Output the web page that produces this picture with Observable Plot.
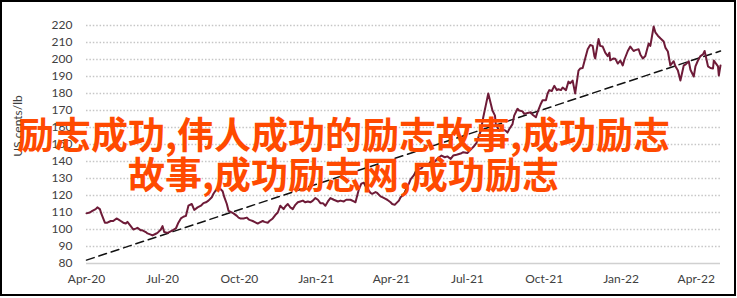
<!DOCTYPE html>
<html>
<head>
<meta charset="utf-8">
<script src="https://cdn.jsdelivr.net/npm/d3@7"></script>
<script src="https://cdn.jsdelivr.net/npm/@observablehq/plot@0.6"></script>
<style>
  body { margin: 0; background: #fff; }
  #chart { position: relative; width: 737px; height: 298px; overflow: hidden; }
  #chart svg { position: absolute; left: 0; top: 0; display: block; }
  #frame { position: absolute; left: 0; top: 0; width: 736px; height: 296px; border: 2px solid #000; box-sizing: border-box; pointer-events: none; }
  #ylabel { position: absolute; left: 17px; top: 126px; transform: translate(-50%, -50%) rotate(-90deg); font: 12px Lato, sans-serif; color: #404040; white-space: nowrap; }
  #banner { position: absolute; left: 0; top: 113px; width: 687px; text-align: center; font: 700 37px/40px "Noto Sans CJK SC", sans-serif; color: #ff4a00; white-space: nowrap; }
</style>
</head>
<body>
<div id="chart">
  <div id="ylabel">US cents/lb</div>
  <div id="banner">励志成功,伟人成功的励志故事,成功励志<br>故事,成功励志网,成功励志</div>
  <div id="frame"></div>
</div>
<script>
// Daily coffee price, US cents/lb
const dates = [
  "2020-04-01","2020-04-05","2020-04-08","2020-04-12","2020-04-14","2020-04-17","2020-04-19","2020-04-23","2020-04-26","2020-04-30",
  "2020-05-03","2020-05-07","2020-05-09","2020-05-12","2020-05-15","2020-05-18","2020-05-20","2020-05-24","2020-05-27","2020-05-30",
  "2020-06-01","2020-06-05","2020-06-07","2020-06-11","2020-06-13","2020-06-17","2020-06-19","2020-06-23","2020-06-25","2020-06-29",
  "2020-07-01","2020-07-03","2020-07-07","2020-07-09","2020-07-13","2020-07-17","2020-07-20","2020-07-23","2020-07-26","2020-07-29",
  "2020-08-01","2020-08-05","2020-08-08","2020-08-12","2020-08-16","2020-08-19","2020-08-22","2020-08-25","2020-08-29","2020-08-31",
  "2020-09-02","2020-09-06","2020-09-08","2020-09-11","2020-09-13","2020-09-16","2020-09-18","2020-09-20","2020-09-24","2020-09-28",
  "2020-09-30","2020-10-02","2020-10-06","2020-10-10","2020-10-12","2020-10-14","2020-10-17","2020-10-19","2020-10-23","2020-10-25",
  "2020-10-29","2020-10-31","2020-11-04","2020-11-06","2020-11-10","2020-11-13","2020-11-16","2020-11-19","2020-11-23","2020-11-25",
  "2020-11-28","2020-12-01","2020-12-04","2020-12-07","2020-12-10","2020-12-13","2020-12-16","2020-12-19","2020-12-22","2020-12-25",
  "2020-12-28","2020-12-31","2021-01-03","2021-01-06","2021-01-09","2021-01-12","2021-01-15","2021-01-18","2021-01-22","2021-01-27",
  "2021-01-30","2021-02-03","2021-02-06","2021-02-11","2021-02-15","2021-02-17","2021-02-21","2021-02-24","2021-02-27","2021-03-01",
  "2021-03-03","2021-03-07","2021-03-09","2021-03-13","2021-03-15","2021-03-19","2021-03-21","2021-03-25","2021-03-27","2021-03-31",
  "2021-04-02","2021-04-05","2021-04-07","2021-04-10","2021-04-12","2021-04-16","2021-04-18","2021-04-22","2021-04-24","2021-04-28",
  "2021-04-30","2021-05-04","2021-05-07","2021-05-11","2021-05-14","2021-05-18","2021-05-21","2021-05-25","2021-05-27","2021-05-31",
  "2021-06-04","2021-06-07","2021-06-11","2021-06-14","2021-06-18","2021-06-23","2021-06-26","2021-07-01","2021-07-05","2021-07-08",
  "2021-07-12","2021-07-14","2021-07-17","2021-07-20","2021-07-23","2021-07-25","2021-07-26","2021-07-29","2021-07-31","2021-08-03",
  "2021-08-04","2021-08-06","2021-08-08","2021-08-12","2021-08-16","2021-08-18","2021-08-20","2021-08-24","2021-08-26","2021-08-30",
  "2021-09-01","2021-09-05","2021-09-07","2021-09-11","2021-09-15","2021-09-17","2021-09-21","2021-09-23","2021-09-27","2021-09-29",
  "2021-10-03","2021-10-05","2021-10-07","2021-10-10","2021-10-13","2021-10-16","2021-10-18","2021-10-21","2021-10-23","2021-10-27",
  "2021-10-30","2021-11-01","2021-11-04","2021-11-07","2021-11-11","2021-11-13","2021-11-16","2021-11-19","2021-11-22","2021-11-25",
  "2021-11-28","2021-11-30","2021-12-01","2021-12-05","2021-12-07","2021-12-10","2021-12-13","2021-12-16","2021-12-18","2021-12-19",
  "2021-12-23","2021-12-25","2021-12-28","2021-12-31","2022-01-03","2022-01-05","2022-01-09","2022-01-12","2022-01-16","2022-01-18",
  "2022-01-22","2022-01-24","2022-01-27","2022-01-30","2022-02-03","2022-02-05","2022-02-09","2022-02-11","2022-02-14","2022-02-17",
  "2022-02-21","2022-02-23","2022-02-26","2022-03-01","2022-03-05","2022-03-07","2022-03-10","2022-03-13","2022-03-17","2022-03-19",
  "2022-03-23","2022-03-25","2022-03-29","2022-03-31","2022-04-03","2022-04-06","2022-04-09","2022-04-11","2022-04-15","2022-04-18",
  "2022-04-21","2022-04-22","2022-04-24","2022-04-27","2022-04-28","2022-04-30"
];
const prices = [
  109.5,110,111,112,113,112,109,104,104,105,
  105,106.5,106,105,104,103.5,104.5,102,100,100.5,
  101,99.5,99.5,98.5,97.7,97,96.5,97.5,98,100,
  102,98.5,98,98.5,99.5,100.6,104,106.5,107.5,108,
  114,115,111.5,113,114,115.5,116,117,119,121,
  122.5,124.5,124,122.5,119,115,111,110.5,109.5,108,
  107,106.5,106.5,107,106,105.5,105,104.5,103.5,104,
  105,104.5,104,105,106.5,108.5,110,114,112,113.5,
  115,113,112,114.5,116,116.5,117,116,116.5,116,
  117,118.5,117.5,115.5,115.5,114,116.5,118.5,117.5,116.5,
  117,116.5,117.5,117.5,116.5,116,123.5,127,127.5,125.5,
  124.5,121.5,121,122,121.5,119.5,119,118,117.5,116,
  115,114.5,115.5,117,119,120.5,123,127,129.5,132,
  134,135.5,136,138.5,137.5,140,139,141,142,143.5,
  142.5,143,141.5,143.5,144,144.7,145.5,145,147,148.5,
  151,154,158,166,173,177.6,180,174,170,167,
  162,160,158,159,158,157,159,162,167,171,
  170,169.5,168,168.5,169,167.5,166,169,174,176,
  176,180,182,181.5,184.5,182,182.5,182,183.5,182,
  187,186,187.6,180,193.5,194.7,195,200.6,206,208.5,
  208,202,200.6,212,208,207.6,204,202,204,199.5,
  200.6,200.5,197.6,199.4,196.5,200,205,207.6,205,205.5,
  206,203,200.6,202,209.4,208,219.4,216,214,212.5,
  210.6,207,204.7,196.5,199,196,193.5,187.6,196.5,197,
  199,194,190,196,199.4,202,203,205,196,195,
  194.7,199.4,198,196,190.6,196.5
];

// Long-run trend line, start and end values
const trendDates = ["2020-04-01", "2022-04-30"];
const trendValues = [82, 205];

// Axis ticks and labels
const yTicks = [80, 90, 100, 110, 120, 130, 140, 150, 160, 170, 180, 190, 200, 210, 220];
const xTickDates = ["2020-04-01","2020-07-01","2020-10-01","2021-01-01","2021-04-01","2021-07-01","2021-10-01","2022-01-01","2022-04-01"];
const xTickLabels = ["Apr-20","Jul-20","Oct-20","Jan-21","Apr-21","Jul-21","Oct-21","Jan-22","Apr-22"];

const series = dates.map((d, i) => ({date: new Date(d), value: prices[i]}));
const trend = trendDates.map((d, i) => ({date: new Date(d), value: trendValues[i]}));
const xTicks = xTickDates.map(d => new Date(d));

const chart = Plot.plot({
  width: 737,
  height: 298,
  marginLeft: 86,
  marginRight: 17,
  marginTop: 25,
  marginBottom: 35,
  style: {fontFamily: "Lato, sans-serif", fontSize: "12px", color: "#404040", background: "transparent"},
  x: {type: "utc", domain: [new Date(trendDates[0]), new Date(trendDates[1])]},
  y: {domain: [yTicks[0], yTicks[yTicks.length - 1]]},
  marks: [
    Plot.ruleY(yTicks.slice(1), {stroke: "#c6c6c6", strokeWidth: 1.5, strokeDasharray: "1.5,1.9"}),
    Plot.ruleY(yTicks.slice(0, 1), {stroke: "#d0d0d0", strokeWidth: 1.5}),
    Plot.axisY({ticks: yTicks, tickSize: 0, tickPadding: 14, label: null}),
    Plot.axisX({ticks: xTicks, tickSize: 0, tickPadding: 11, label: null,
      tickFormat: (d) => xTickLabels[xTicks.findIndex(t => +t === +d)]}),
    Plot.line(trend, {x: "date", y: "value", stroke: "#111", strokeWidth: 1.5, strokeDasharray: "8,5"}),
    Plot.line(series, {x: "date", y: "value", stroke: "#6e1b38", strokeWidth: 2})
  ]
});

document.getElementById("chart").prepend(chart);
</script>
</body>
</html>
